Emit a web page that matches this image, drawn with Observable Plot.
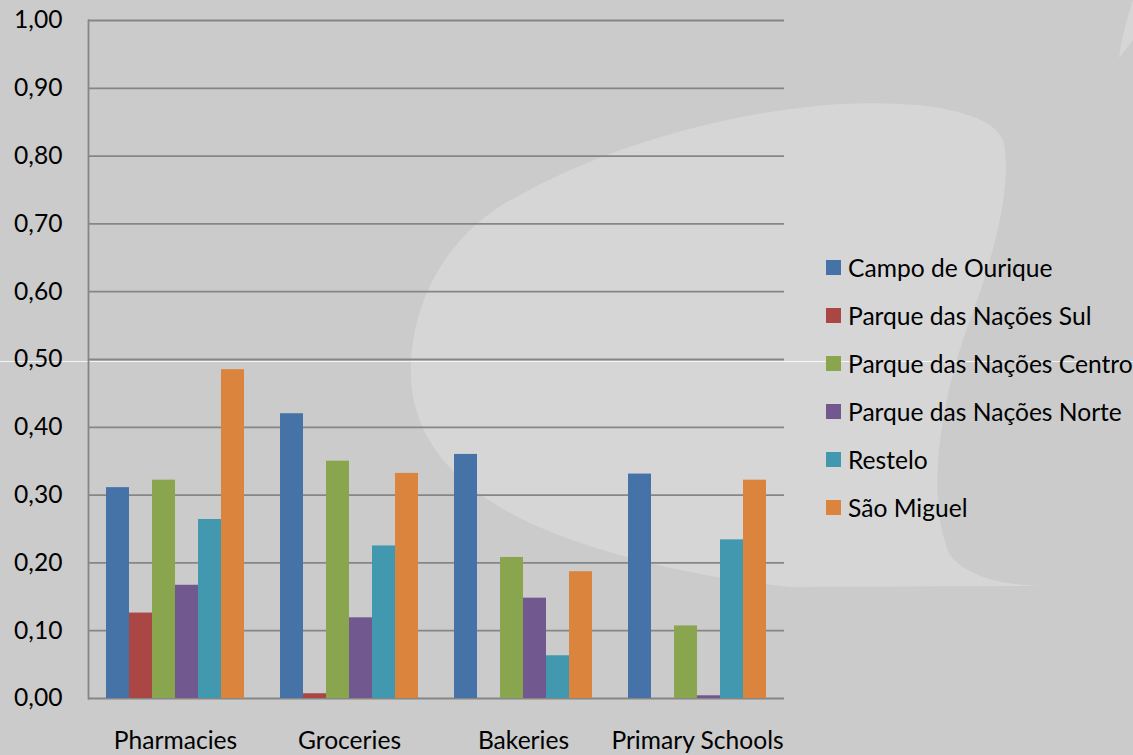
<!DOCTYPE html>
<html>
<head>
<meta charset="utf-8">
<script src="https://cdn.jsdelivr.net/npm/d3@7"></script>
<script src="https://cdn.jsdelivr.net/npm/@observablehq/plot@0.6"></script>
<style>
  html, body { margin: 0; padding: 0; }
  body { width: 1133px; height: 755px; background: #cbcbcb; position: relative; overflow: hidden; font-family: Lato, "Open Sans", sans-serif; }
  #bg { position: absolute; left: 0; top: 0; }
  #chart { position: absolute; left: 0; top: 0; }
  #legend { position: absolute; left: 826px; top: 243px; }
  .row { height: 48px; display: flex; align-items: center; font-size: 24.6px; color: #000; white-space: nowrap; }
  .sw { width: 15px; height: 15px; margin-right: 7px; flex: none; }
</style>
</head>
<body>
<svg id="bg" width="1133" height="755">
  <path d="M 411,380 C 408,300 450,230 520,195 C 600,150 720,112 840,104 C 920,100 990,110 1003,140 C 1012,175 1000,240 970,320 C 940,400 925,500 950,555 C 970,580 1010,585 1043,586 L 790,587 C 700,578 600,555 530,523 C 470,495 415,450 411,380 Z" fill="#d6d6d6"/>
  <path d="M 1119,58 C 1122,35 1128,15 1133,0 L 1133,40 Z" fill="#d6d6d6"/>
  <line x1="0" x2="1133" y1="361.5" y2="361.5" stroke="#ffffff" stroke-opacity="0.8" stroke-width="1"/>
</svg>
<div id="chart"></div>
<div id="legend"></div>
<script>
const categories = ["Pharmacies", "Groceries", "Bakeries", "Primary Schools"];
const series = ["Campo de Ourique", "Parque das Nações Sul", "Parque das Nações Centro", "Parque das Nações Norte", "Restelo", "São Miguel"];
const campoDeOurique = [0.311, 0.420, 0.360, 0.331];
const pnSul = [0.126, 0.007, 0.000, 0.000];
const pnCentro = [0.322, 0.350, 0.208, 0.107];
const pnNorte = [0.167, 0.119, 0.148, 0.004];
const restelo = [0.264, 0.225, 0.063, 0.234];
const saoMiguel = [0.485, 0.332, 0.187, 0.322];
const colors = ["#4572a7", "#aa4643", "#89a54e", "#71588f", "#4198af", "#db843d"];
const yTicks = [0, 0.1, 0.2, 0.3, 0.4, 0.5, 0.6, 0.7, 0.8, 0.9, 1.0];

const seriesValues = [campoDeOurique, pnSul, pnCentro, pnNorte, restelo, saoMiguel];
const data = [];
categories.forEach((c, i) => {
  series.forEach((s, j) => {
    data.push({category: c, series: s, value: seriesValues[j][i]});
  });
});

const fmt = d => d3.format(".2f")(d).replace(".", ",");

const chart = Plot.plot({
  width: 1133,
  height: 755,
  marginLeft: 87,
  marginRight: 349,
  marginTop: 20,
  marginBottom: 57,
  style: {background: "transparent", fontFamily: "Lato, 'Open Sans', sans-serif", fontSize: "24.6px", color: "#000", overflow: "visible"},
  fx: {domain: categories, padding: 0, label: null},
  x: {domain: series, paddingInner: 0, paddingOuter: 0.74, axis: null},
  y: {domain: [0, 1], label: null},
  color: {domain: series, range: colors},
  marks: [
    Plot.ruleY(yTicks, {stroke: "#868686", strokeWidth: 1.8}),
    Plot.barY(data, {fx: "category", x: "series", y: "value", fill: "series"}),
    Plot.frame({anchor: "left", facetAnchor: "left", stroke: "#868686", strokeWidth: 1.8}),
    Plot.axisY(yTicks, {tickSize: 0, tickPadding: 26, tickFormat: fmt, fontSize: 24.6, label: null}),
    Plot.axisFx({anchor: "bottom", tickSize: 0, tickPadding: 33, fontSize: 24.6, label: null})
  ]
});
document.getElementById("chart").appendChild(chart);

const legend = d3.select("#legend");
series.forEach((s, j) => {
  const row = legend.append("div").attr("class", "row");
  row.append("div").attr("class", "sw").style("background", colors[j]);
  row.append("span").text(s);
});
</script>
</body>
</html>
